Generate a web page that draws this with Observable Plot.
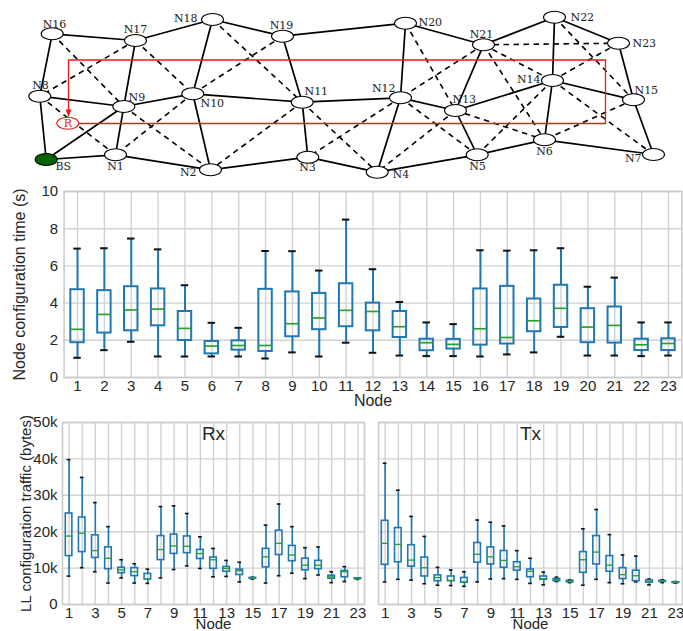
<!DOCTYPE html>
<html><head><meta charset="utf-8">
<script src="https://cdn.jsdelivr.net/npm/d3@7"></script>
<script src="https://cdn.jsdelivr.net/npm/@observablehq/plot@0.6"></script>
<style>
body{margin:0;background:#fff;}
#wrap{position:relative;width:683px;height:631px;overflow:hidden;background:#fff;}
#wrap > svg{position:absolute;}
</style></head><body><div id="wrap"></div>
<script>
// ---------------- network diagram data ----------------
const nodeNames = ["BS","N1","N2","N3","N4","N5","N6","N7","N8","N9","N10","N11","N12","N13","N14","N15","N16","N17","N18","N19","N20","N21","N22","N23"];
const nodeX = [45.7,115,210,307.3,376.7,476.7,544,653,39.3,123.3,192.3,301.7,400,455,552,633,51.7,135,212,282,405,483,554,618];
const nodeY = [159,154.3,169.3,156.7,171.7,154.3,139.3,154,95.7,106,93.3,101.7,97.3,110,80,99.3,33.3,40,19,35.7,22.7,44.3,16.7,42.7];
const labelX = [55,115,196,307,392,477,544,641,40,128,200,304,395,452,540,634,54,135,197,281,418,481,570,632];
const labelY = [166,165.5,172,167,173.5,165.5,150.5,158,85,97,102.5,91,88,99,79,90,24,29,18,24.5,22,33.5,16.5,43];
const labelAnchor = ["start","middle","end","middle","start","middle","middle","end","middle","start","start","start","end","start","end","start","middle","middle","end","middle","start","middle","start","start"];
const solidEdges = [["N16","N17"],["N16","N8"],["N17","N18"],["N17","N9"],["N18","N19"],["N18","N10"],["N19","N20"],["N19","N11"],["N20","N21"],["N20","N12"],["N21","N22"],["N21","N13"],["N22","N23"],["N22","N14"],["N23","N15"],
  ["N8","N9"],["N9","N10"],["N10","N11"],["N11","N12"],["N12","N13"],["N13","N14"],["N14","N15"],
  ["N8","BS"],["N9","BS"],["N9","N1"],["N10","N2"],["N11","N3"],["N12","N4"],["N13","N5"],["N14","N6"],["N15","N7"],
  ["BS","N1"],["N1","N2"],["N2","N3"],["N3","N4"],["N4","N5"],["N5","N6"],["N6","N7"]];
const dashedEdges = [["N16","N9"],["N17","N8"],["N17","N10"],["N18","N11"],["N19","N10"],["N20","N13"],["N21","N12"],["N21","N23"],["N21","N14"],["N21","N6"],["N22","N15"],["N23","N14"],
  ["N8","N1"],["N9","N2"],["N10","N1"],["N11","N2"],["N11","N4"],["N12","N3"],["N12","N5"],["N13","N4"],["N13","N6"],["N14","N5"],["N14","N7"],["N15","N6"]];
const relayName = "R";
const relayX = [67.3];
const relayY = [122.7];
const routeX = [79, 605, 605, 68, 68];
const routeY = [123, 123, 59.5, 59.5, 115];

// ---------------- box plot data ----------------
const nodes = [1,2,3,4,5,6,7,8,9,10,11,12,13,14,15,16,17,18,19,20,21,22,23];
const timeTicks = [0,2,4,6,8,10];
const timeMin = [1.06,1.47,1.92,1.13,1.13,1.13,1.13,1.02,1.35,1.13,1.87,1.33,1.18,1.15,1.15,1.13,1.24,1.35,2.19,1.18,1.18,1.15,1.18];
const timeQ1  = [1.87,2.39,2.51,2.78,1.99,1.27,1.47,1.40,2.19,2.57,2.73,2.51,2.15,1.44,1.53,1.74,1.80,2.46,2.69,1.87,1.85,1.45,1.45];
const timeMed = [2.59,3.39,3.63,3.68,2.64,1.69,1.72,1.72,2.89,3.20,3.61,3.55,2.73,1.87,1.78,2.62,2.15,3.05,3.72,2.71,2.80,1.76,1.83];
const timeQ3  = [4.72,4.67,4.88,4.76,3.55,1.94,1.97,4.74,4.60,4.52,5.04,4.00,3.55,2.06,2.05,4.76,4.90,4.22,4.96,3.70,3.79,2.06,2.08];
const timeMax = [6.93,6.95,7.47,6.89,4.96,2.94,2.67,6.80,6.79,5.75,8.49,5.82,4.06,2.96,2.87,6.84,6.82,6.84,6.95,4.88,5.37,2.96,2.96];

const trafficTicks = [0,10000,20000,30000,40000,50000];
const oddNodes = [1,3,5,7,9,11,13,15,17,19,21,23];
const rxMin = [7800,10100,9000,5900,7300,5900,5800,7300,9600,10600,9900,7600,7700,6200,7000,5900,7900,8600,7100,8100,6000,6300,6900];
const rxQ1  = [13300,14400,12800,9700,8600,7800,6900,12200,13900,14100,12500,9800,9000,8100,7100,10200,13600,11900,9400,9700,7100,7500,7000];
const rxMed = [18800,19600,14800,12700,9500,9000,7000,15100,16100,16000,14000,12300,9900,9300,7200,13100,16800,13600,10800,10800,7600,9000,7100];
const rxQ3  = [25000,23900,19000,15700,10100,10000,8400,18800,19200,18700,15000,12900,10300,9600,7300,15300,20300,16100,12600,12000,7900,9200,7200];
const rxMax = [39800,34900,28000,21400,12300,11200,9700,26900,27100,25000,18600,15400,12100,11600,7500,21800,27600,21400,15600,15800,9000,10400,7300];
const txMin = [6200,6900,6700,5700,5300,5200,5000,6200,7000,7100,6900,5800,5400,6300,6000,5300,6900,6000,5700,6200,5400,6000,5850];
const txQ1  = [10900,11600,10400,7700,6400,6400,6000,11500,11000,10100,9300,7500,6800,6400,6100,8700,11000,9000,7000,6400,6000,6200,5950];
const txMed = [16800,16500,12200,10100,7400,6600,6200,13800,13100,12100,10400,9100,7100,6800,6300,12300,14400,10800,8200,7900,6200,6400,6000];
const txQ3  = [23000,21000,16300,12900,8000,7700,7300,16900,15700,14700,11600,9600,7700,7000,6500,14400,18800,13300,10000,9300,6600,6500,6100];
const txMax = [38800,31400,24200,18700,10200,9500,9000,23200,22600,21600,14800,12700,8900,7500,6800,20800,26100,19200,13600,13300,7000,6800,6300];

// ---------------- styles ----------------
const BLUE = "#1f77b4", GREEN = "#2ca02c", CAP = "#111", GRID = "#d2d2d2", RED = "#f01818";
const SANS = "'Liberation Sans', Arial, Helvetica, sans-serif";
const SERIF = "'DejaVu Serif', 'Liberation Serif', serif";
const wrap = document.getElementById("wrap");
function place(el, left, top) { el.style.left = left + "px"; el.style.top = top + "px"; wrap.appendChild(el); }

// ---------------- network ----------------
const ellipse = {draw(ctx) {
  const rx = 11, ry = 6, k = 0.5523;
  ctx.moveTo(rx, 0);
  ctx.bezierCurveTo(rx, ry * k, rx * k, ry, 0, ry);
  ctx.bezierCurveTo(-rx * k, ry, -rx, ry * k, -rx, 0);
  ctx.bezierCurveTo(-rx, -ry * k, -rx * k, -ry, 0, -ry);
  ctx.bezierCurveTo(rx * k, -ry, rx, -ry * k, rx, 0);
  ctx.closePath();
}};
const arrowHead = {draw(ctx) { ctx.moveTo(-3, -6); ctx.lineTo(3, -6); ctx.lineTo(0, 1); ctx.closePath(); }};
const netNodes = nodeNames.map((n, i) => ({name: n, x: nodeX[i], y: nodeY[i], lx: labelX[i], ly: labelY[i], anchor: labelAnchor[i]}));
const byName = new Map(netNodes.map(d => [d.name, d]));
const toLinks = es => es.map(([a, b]) => ({a: byName.get(a), b: byName.get(b)}));
const route = routeX.map((x, i) => ({x, y: routeY[i]}));
const relay = relayX.map((x, i) => ({x, y: relayY[i], name: relayName}));
const linkOpts = {x1: d => d.a.x, y1: d => d.a.y, x2: d => d.b.x, y2: d => d.b.y, stroke: "#000"};

const net = Plot.plot({
  width: 683, height: 180, margin: 0,
  x: {domain: [0, 683], range: [0, 683], axis: null},
  y: {domain: [0, 180], range: [0, 180], axis: null},
  style: {background: "transparent", overflow: "visible", fontFamily: SERIF},
  marks: [
    Plot.link(toLinks(dashedEdges), {...linkOpts, strokeWidth: 1.6, strokeDasharray: "5.5,4.5"}),
    Plot.link(toLinks(solidEdges), {...linkOpts, strokeWidth: 1.7}),
    Plot.line(route, {x: "x", y: "y", stroke: RED, strokeWidth: 1.3}),
    Plot.dot([route[route.length - 1]], {x: "x", y: "y", symbol: arrowHead, fill: RED, stroke: "none"}),
    Plot.dot(netNodes, {x: "x", y: "y", symbol: ellipse, fill: d => d.name === "BS" ? "#006400" : "#fff", stroke: "#000", strokeWidth: 1.1}),
    Plot.dot(relay, {x: "x", y: "y", symbol: ellipse, fill: "#fff", stroke: RED, strokeWidth: 1.1}),
    Plot.text(relay, {x: "x", y: "y", text: "name", fill: RED, fontSize: 11, dy: 0.5}),
    ...["start", "middle", "end"].map(a => Plot.text(netNodes.filter(d => d.anchor === a), {x: "lx", y: "ly", text: "name", textAnchor: a, fontSize: 11, fill: "#222"}))
  ]
});
place(net, 0, 0);

// ---------------- box plots ----------------
function rowsOf(mins, q1s, meds, q3s, maxs) {
  return nodes.map((node, i) => ({node, min: mins[i], q1: q1s[i], med: meds[i], q3: q3s[i], max: maxs[i]}));
}
function boxMarks(rows, sw) {
  const half = 0.25, cap = 0.14;
  return [
    Plot.ruleX(rows, {x: "node", y1: "min", y2: "q1", stroke: BLUE, strokeWidth: sw}),
    Plot.ruleX(rows, {x: "node", y1: "q3", y2: "max", stroke: BLUE, strokeWidth: sw}),
    Plot.ruleY(rows, {y: "min", x1: d => d.node - cap, x2: d => d.node + cap, stroke: CAP, strokeWidth: sw}),
    Plot.ruleY(rows, {y: "max", x1: d => d.node - cap, x2: d => d.node + cap, stroke: CAP, strokeWidth: sw}),
    Plot.rect(rows, {x1: d => d.node - half, x2: d => d.node + half, y1: "q1", y2: "q3", fill: "none", stroke: BLUE, strokeWidth: sw}),
    Plot.ruleY(rows, {y: "med", x1: d => d.node - half, x2: d => d.node + half, stroke: GREEN, strokeWidth: sw * 0.85})
  ];
}
const gridMarks = (yt) => [
  Plot.ruleX(nodes, {stroke: GRID, strokeWidth: 1.4}),
  Plot.ruleY(yt, {stroke: GRID, strokeWidth: 1.4}),
  Plot.frame({stroke: "#cccccc", strokeWidth: 1.6})
];

const timeRows = rowsOf(timeMin, timeQ1, timeMed, timeQ3, timeMax);
const mid = Plot.plot({
  width: 683, height: 230, marginTop: 11, marginBottom: 33, marginLeft: 63.6, marginRight: 1.6,
  style: {background: "transparent", overflow: "visible", fontFamily: SANS, fontSize: "15px", color: "#262626"},
  x: {domain: [0.5, 23.5], ticks: nodes, tickSize: 0, tickPadding: 3, label: null},
  y: {domain: [0, 10], ticks: timeTicks, tickSize: 0, tickPadding: 6, label: null},
  marks: [
    ...gridMarks(timeTicks),
    ...boxMarks(timeRows, 2),
    Plot.text(["Node"], {text: d => d, frameAnchor: "bottom", dy: 23, fontSize: 16, lineAnchor: "middle", fill: "#262626"}),
    Plot.text(["Node configuration time (s)"], {text: d => d, frameAnchor: "left", dx: -44.6, rotate: -90, fontSize: 16, textAnchor: "middle", lineAnchor: "middle", fill: "#262626"})
  ]
});
place(mid, 0, 180);

const kFmt = d => d === 0 ? "0" : (d / 1000) + "k";
function trafficPlot(rows, title, w, ml, mr, showY) {
  return Plot.plot({
    width: w, height: 221, marginTop: 12, marginBottom: 27, marginLeft: ml, marginRight: mr,
    style: {background: "transparent", overflow: "visible", fontFamily: SANS, fontSize: "15px", color: "#262626"},
    x: {domain: [0.5, 23.5], ticks: oddNodes, tickSize: 0, tickPadding: 3, label: null},
    y: showY ? {domain: [0, 50000], ticks: trafficTicks, tickSize: 0, tickPadding: 5, tickFormat: kFmt, label: null}
             : {domain: [0, 50000], axis: null},
    marks: [
      ...gridMarks(trafficTicks),
      ...boxMarks(rows, 1.6),
      Plot.text([title], {text: d => d, frameAnchor: "top", dy: 11, fontSize: 19, lineAnchor: "middle", fill: "#262626"}),
      Plot.text(["Node"], {text: d => d, frameAnchor: "bottom", dy: 20, fontSize: 15, lineAnchor: "middle", fill: "#262626"}),
      ...(showY ? [Plot.text(["LL configuration traffic (bytes)"], {text: d => d, frameAnchor: "left", dx: -36, rotate: -90, fontSize: 15, textAnchor: "middle", lineAnchor: "middle", fill: "#262626"})] : [])
    ]
  });
}
place(trafficPlot(rowsOf(rxMin, rxQ1, rxMed, rxQ3, rxMax), "Rx", 368, 62, 4, true), 0, 410);
place(trafficPlot(rowsOf(txMin, txQ1, txMed, txQ3, txMax), "Tx", 313, 8, 1, false), 370, 410);
</script></body></html>
